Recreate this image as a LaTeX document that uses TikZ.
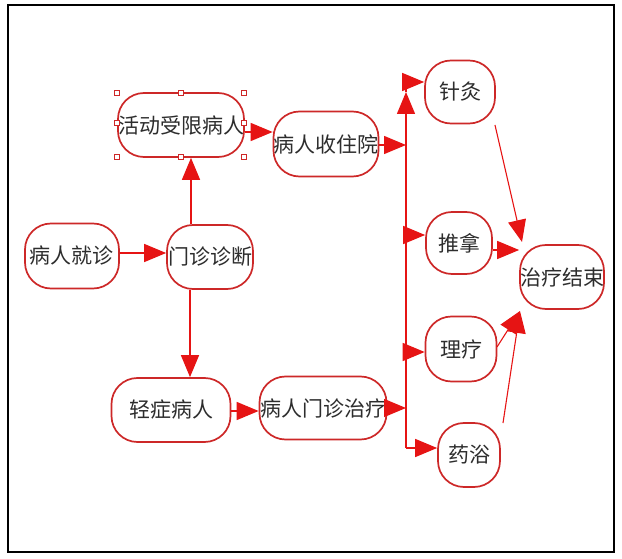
\documentclass[tikz,border=0pt]{standalone}
\usepackage{fontspec}
\newfontfamily\cjk{Noto Sans CJK SC}
\usetikzlibrary{arrows.meta}
\definecolor{lred}{RGB}{230,20,20}
\definecolor{bred}{RGB}{205,40,40}
\definecolor{txt}{RGB}{45,45,45}
\tikzset{
  box/.style={draw=bred, line width=1.7pt, rounded corners=26pt, fill=white,
    inner sep=0pt, text=txt, font=\cjk\fontsize{21}{25}\selectfont},
  arr/.style={draw=lred, line width=1.5pt, -{Triangle[length=22pt,width=18pt]}},
  ln/.style={draw=lred, line width=1.5pt},
  handle/.style={draw=bred, line width=1pt, fill=white, minimum size=5.5pt, inner sep=0pt}
}
\begin{document}
\begin{tikzpicture}[x=1pt,y=-1pt]
\useasboundingbox (0,0) rectangle (622,559);
\draw[black, line width=1.3pt] (8,5) rectangle (614,552);

% nodes
\node[box, minimum width=126pt, minimum height=64pt] (limit) at (181,125) {活动受限病人};
\node[box, minimum width=104pt, minimum height=65pt] (ward) at (326,144) {病人收住院};
\node[box, minimum width=94pt, minimum height=65pt] (visit) at (72,256) {病人就诊};
\node[box, minimum width=86pt, minimum height=64pt] (diag) at (210,257) {门诊诊断};
\node[box, minimum width=119pt, minimum height=64pt] (mild) at (171,410) {轻症病人};
\node[box, minimum width=127pt, minimum height=63pt] (clinic) at (323,408) {病人门诊治疗};
\node[box, minimum width=70pt, minimum height=63pt] (zj) at (460,92) {针灸};
\node[box, minimum width=66pt, minimum height=62pt] (tn) at (459,243) {推拿};
\node[box, minimum width=71pt, minimum height=65pt] (ll) at (461,349) {理疗};
\node[box, minimum width=62pt, minimum height=64pt] (yy) at (469,455) {药浴};
\node[box, minimum width=81pt, minimum height=64pt] (end) at (562,277) {治疗结束};

% selection handles
\foreach \hx/\hy [count=\i] in {117/93,181/93,244/93,117/123,244/123,117/157,181/157,244/157}
  \node[handle] (h\i) at (\hx,\hy) {};

% left part connectors
\draw[arr] (visit.east |- 0,253) -- (diag.west |- 0,253);
\draw[arr] (diag.north -| 191,0) -- (limit.south -| 191,0);
\draw[arr] (diag.south -| 190,0) -- (mild.north -| 190,0);
\draw[arr] (limit.east |- 0,132) -- (ward.west |- 0,132);
\draw[arr] (mild.east |- 0,411) -- (clinic.west |- 0,411);

% bus
\coordinate (bbot) at (406,448);
\coordinate (btip) at (406,92);
\coordinate (btop) at (406,82);
\coordinate (bw) at (406,145);
\coordinate (bc) at (406,408);
\coordinate (btn) at (406,235);
\coordinate (bll) at (406,352);
\draw[arr] (bbot) -- (btip);
\draw[ln] (btip) -- (btop);
\draw[arr] (btop) -- (zj.west |- btop);
\draw[arr] (ward.east |- bw) -- (bw);
\draw[arr] (clinic.east |- bc) -- (bc);
\draw[arr] (btn) -- (tn.west |- btn);
\draw[arr] (bll) -- (ll.west |- bll);
\draw[arr] (bbot) -- (yy.west |- bbot);

% to end
\coordinate (e1) at (522,242);
\coordinate (e3) at (520,311);
\draw[arr, line width=1.1pt] (495,125) -- (e1);
\draw[arr] (tn.east |- 0,250) -- (end.west |- 0,250);
\draw[arr, line width=1.1pt] (497,347) -- (e3);
\draw[arr, line width=1.1pt] (503,423) -- (e3);
\end{tikzpicture}
\end{document}
